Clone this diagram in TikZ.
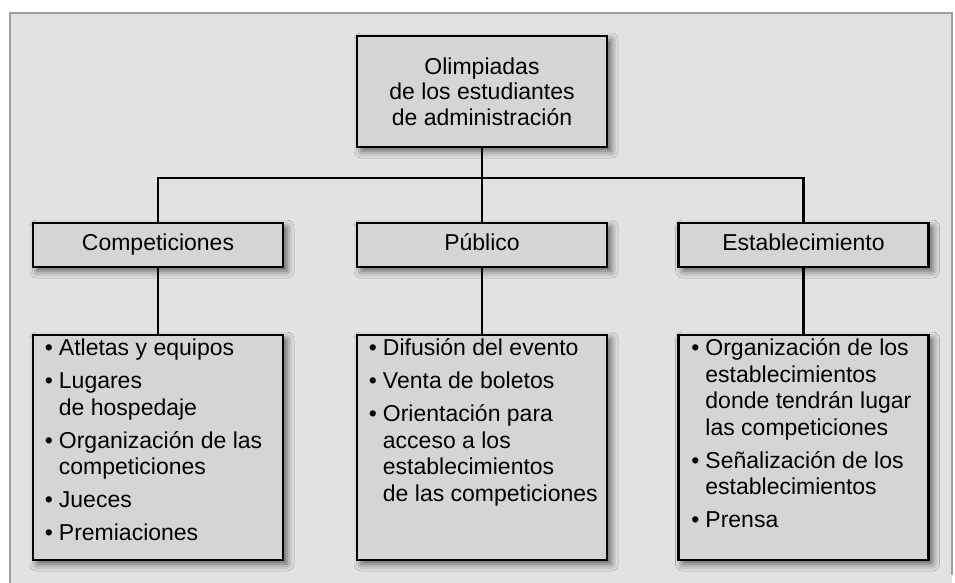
\documentclass[tikz,border=0pt]{standalone}
\usepackage{fontspec}
\setmainfont{Liberation Sans}
\usetikzlibrary{positioning,shadows.blur}
\definecolor{pagebg}{HTML}{E2E2E2}
\definecolor{boxfill}{HTML}{D5D5D5}
\definecolor{framecol}{HTML}{9E9E9E}
\newcommand{\bul}{\makebox[14pt][l]{\textbullet}}
\newcommand{\cont}{\hspace*{14pt}}
\newcommand{\firstln}{\rule{0pt}{18pt}}

\begin{document}
\begin{tikzpicture}[
  x=1pt, y=1pt,
  font=\fontsize{23}{26.5}\selectfont,
  boxbase/.style={draw=black, fill=boxfill, line width=2.5pt, inner sep=0pt,
                  minimum width=250pt,
                  blur shadow={shadow xshift=4pt, shadow yshift=-4pt,
                               shadow blur radius=7pt, shadow opacity=60}},
  topbox/.style={boxbase, minimum height=111pt, align=center,
                 font=\fontsize{23}{25.5}\selectfont},
  catbox/.style={boxbase, minimum height=44pt, text height=16pt, text depth=5pt},
  listbox/.style={boxbase, minimum height=225pt},
  listtxt/.style={inner sep=0pt, align=left},
  link/.style={line width=2.5pt, black}]

% page
\useasboundingbox (0,0) rectangle (955,-583);
\fill[pagebg] (10,-13) rectangle (952,-583);
\draw[framecol, line width=2pt] (10,-583) -- (10,-13) -- (952,-13) -- (952,-575);

% boxes
\node[topbox] (root) at (482,-91.5) {Olimpiadas\\de los estudiantes\\de administración};

\node[catbox] (comp) at (158,-245) {Competiciones};
\node[catbox] (pub) at (482,-245) {Público};
\node[catbox] (est) at (803.5,-245) {Establecimiento};

\node[listbox] (compl) at (158,-447.5) {};
\node[listbox] (publ) at (482,-447.5) {};
\node[listbox] (estl) at (803.5,-447.5) {};

% lists
\node[listtxt, below right=4pt and 13pt of compl.north west] (comptxt)
  {\firstln\bul Atletas y equipos\\[6.5pt]
   \bul Lugares\\
   \cont de hospedaje\\[6.5pt]
   \bul Organización de las\\
   \cont competiciones\\[6.5pt]
   \bul Jueces\\[6.5pt]
   \bul Premiaciones};
\node[listtxt, below right=4pt and 13pt of publ.north west] (pubtxt)
  {\firstln\bul Difusión del evento\\[6.5pt]
   \bul Venta de boletos\\[6.5pt]
   \bul Orientación para\\
   \cont acceso a los\\
   \cont establecimientos\\
   \cont de las competiciones};
\node[listtxt, below right=4pt and 14pt of estl.north west] (esttxt)
  {\firstln\bul Organización de los\\
   \cont establecimientos\\
   \cont donde tendrán lugar\\
   \cont las competiciones\\[6.5pt]
   \bul Señalización de los\\
   \cont establecimientos\\[6.5pt]
   \bul Prensa};

% connectors
\coordinate (bar) at (0,-178);
\draw[link] (root.south) -- (pub.north);
\draw[link] (comp.north) |- (root |- bar) -| (est.north);
\draw[link] (comp.south) -- (compl.north);
\draw[link] (pub.south) -- (publ.north);
\draw[link] (est.south) -- (estl.north);

\end{tikzpicture}
\end{document}
